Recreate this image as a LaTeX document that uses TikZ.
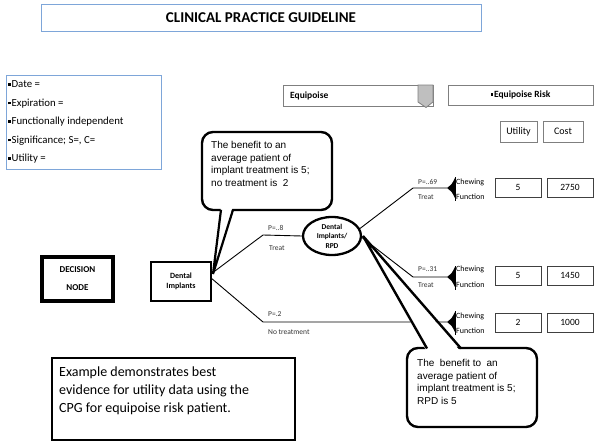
\documentclass[tikz,border=0pt]{standalone}
\usepackage{fontspec}
\setmainfont{Carlito}
\newfontfamily\arialf{Liberation Sans}
\usetikzlibrary{shapes.geometric}
\definecolor{cpgblue}{HTML}{7EA6D9}
\definecolor{boxgray}{HTML}{7F7F7F}
\definecolor{tabgray}{HTML}{BFBFBF}
\definecolor{labgray}{HTML}{333333}
\newcommand{\sqb}{\rule[1.8pt]{2.6pt}{2.6pt}\hspace{0.8pt}}
\begin{document}
\begin{tikzpicture}[x=1pt,y=-1pt,
  graybox/.style={draw=boxgray, line width=0.8pt, inner sep=0pt},
  valbox/.style={draw=black!75, line width=0.7pt, minimum width=46pt, minimum height=19pt, inner sep=0pt, font=\fontsize{9.5}{11}\selectfont},
  brlabel/.style={anchor=west, inner sep=0pt, text=labgray, font=\fontsize{7.5}{9}\selectfont},
  endlabel/.style={anchor=west, inner sep=0pt, font=\fontsize{8}{9}\selectfont},
  branch/.style={line width=0.9pt},
  callout/.style={draw=black, line width=2.4pt, rounded corners=11pt, fill=white},
  calltext/.style={anchor=west, inner sep=0pt, align=left, font=\arialf\fontsize{10}{12.8}\selectfont},
  wedge/.style={fill=black}
]
\useasboundingbox (0,0) rectangle (600,442);

% title
\node[draw=cpgblue, line width=0.9pt, minimum width=440pt, minimum height=27pt, inner sep=0pt,
  font=\bfseries\fontsize{15}{17}\selectfont] (title) at (261,17.5) {CLINICAL PRACTICE GUIDELINE};

% info box
\node[draw=cpgblue, line width=0.9pt, minimum width=155pt, minimum height=94pt, inner sep=0pt] (info) at (83.5,122) {};
\node[anchor=west, inner sep=0pt, align=left, font=\fontsize{10.8}{18.5}\selectfont] (infotext) at (8,122)
  {\sqb Date =\\\sqb Expiration =\\\sqb Functionally independent\\\sqb Significance; S=, C=\\\sqb Utility =};

% equipoise
\node[graybox, minimum width=150pt, minimum height=21pt] (equi) at (358,95.5) {};
\node[anchor=west, inner sep=0pt, font=\bfseries\fontsize{9.5}{11}\selectfont] (equitext) at (290,95.5) {Equipoise};
\draw[fill=tabgray, draw=boxgray, line width=0.8pt] (418,85) -- (433,85) -- (433,102) -- (426,107.5) -- (418,102) -- cycle;
\node[graybox, minimum width=145pt, minimum height=20pt, font=\bfseries\fontsize{9.5}{11}\selectfont] (risk) at (520.5,95) {\sqb Equipoise Risk};

\node[graybox, minimum width=37pt, minimum height=21pt, font=\fontsize{10}{12}\selectfont] (util) at (518.5,131.5) {Utility};
\node[graybox, minimum width=40pt, minimum height=21pt, font=\fontsize{10}{12}\selectfont] (cost) at (563,131.5) {Cost};

% decision node
\node[draw, line width=4pt, minimum width=71pt, minimum height=44pt, inner sep=0pt, align=center,
  font=\bfseries\fontsize{9}{18}\selectfont] (dec) at (77.5,279) {DECISION\\NODE};

% dental implants
\node[draw, line width=2pt, minimum width=60pt, minimum height=39pt, inner sep=0pt, align=center,
  font=\bfseries\fontsize{8}{10}\selectfont] (di) at (181,281.5) {Dental\\Implants};

% ellipse
\node[draw, ellipse, line width=2.3pt, minimum width=58pt, minimum height=38pt, inner sep=0pt, align=center,
  font=\bfseries\fontsize{7.5}{9.5}\selectfont] (ell) at (332,236) {Dental\\Implants/\\RPD};

% coordinates
\coordinate (b1) at (263,235);
\coordinate (b2) at (263,322);
\coordinate (b3) at (413,188);
\coordinate (b4) at (413,277);
\coordinate (t1) at (447,188);
\coordinate (t2) at (447,277);
\coordinate (t3) at (447,322);

% branches
\draw[branch] (di.15) -- (b1) -- (ell.west);
\draw[branch] (di.5) -- (b2) -- (t3);
\draw[branch] (ell.15) -- (b3) -- (t1);
\draw[branch] (ell.-3) -- (b4) -- (t2);

\node[brlabel] (p1) at (268,228) {P=..8};
\node[brlabel] (tr1) at (269,248) {Treat};
\node[brlabel] (p2) at (268,314) {P=.2};
\node[brlabel] (tr2) at (268,332) {No treatment};
\node[brlabel] (p3) at (418,182) {P=..69};
\node[brlabel] (tr3) at (418,197) {Treat};
\node[brlabel] (p4) at (418,269) {P=..31};
\node[brlabel] (tr4) at (418,285) {Treat};

% wedges
\foreach \t in {t1,t2,t3}{
  \fill[wedge] ([shift={(8,-10)}]\t) .. controls ([shift={(5,-4)}]\t) .. (\t) .. controls ([shift={(5,4)}]\t) .. ([shift={(8,10)}]\t) -- cycle;
  \draw[line width=0.6pt] ([shift={(8,-11)}]\t) -- ([shift={(8,13)}]\t);
}

\node[endlabel] (c1) at (456,182) {Chewing};
\node[endlabel] (f1) at (456,197) {Function};
\node[endlabel] (c2) at (456,269) {Chewing};
\node[endlabel] (f2) at (456,285) {Function};
\node[endlabel] (c3) at (456,316) {Chewing};
\node[endlabel] (f3) at (456,331) {Function};

% value boxes
\node[valbox] (u1) at (518,187.5) {5};
\node[valbox] (k1) at (570,187.5) {2750};
\node[valbox] (u2) at (518,275.5) {5};
\node[valbox] (k2) at (570,275.5) {1450};
\node[valbox] (u3) at (518,322.5) {2};
\node[valbox] (k3) at (570,322.5) {1000};

% callout 1
\node[callout, minimum width=130pt, minimum height=78pt, inner sep=0pt] (call1) at (267,171) {};
\coordinate (tip1) at (213,274);
\fill[white] (221,206) -- (tip1) -- (233,206) -- cycle;
\draw[line width=2.2pt, line join=miter] (221,209.8) -- (tip1) -- (233,209.8);
\node[calltext] (call1text) at (211,164) {The benefit to an\\average patient of\\implant treatment is 5;\\no treatment is\ \ 2};

% callout 2
\node[callout, minimum width=130pt, minimum height=79pt, inner sep=0pt] (call2) at (472,387.5) {};
\coordinate (tip2) at (363,236);
\fill[white] (427,352) -- (tip2) -- (461,352) -- cycle;
\draw[line width=2.4pt, line join=miter] (427,348.5) -- (tip2) -- (461,348.5);
\node[calltext] (call2text) at (417,382) {The\ \ benefit to\ \ an\\average patient of\\implant treatment is 5;\\RPD is 5};

% example box
\node[draw, line width=1.4pt, minimum width=243pt, minimum height=82pt, inner sep=0pt] (ex) at (173.5,399) {};
\node[anchor=west, inner sep=0pt, align=left, font=\fontsize{14}{18}\selectfont] (extext) at (59,391)
  {Example demonstrates best\\evidence for utility data using the\\CPG for equipoise risk patient.};

\end{tikzpicture}
\end{document}
